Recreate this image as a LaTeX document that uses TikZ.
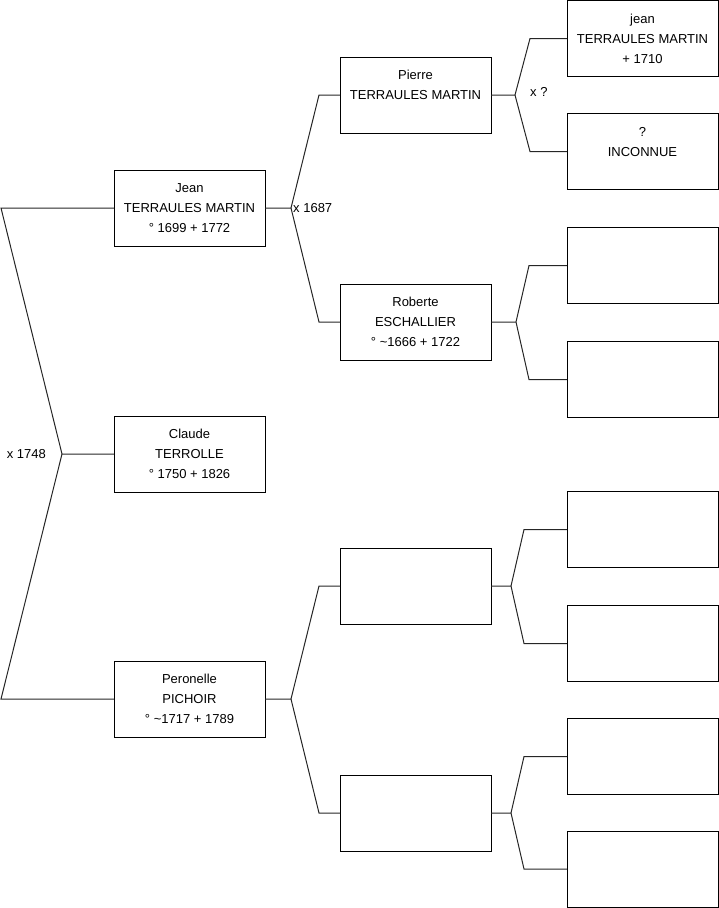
\documentclass[tikz,border=0pt]{standalone}
\usepackage{fontspec}
\setmainfont{Liberation Sans}
\usetikzlibrary{positioning}

\begin{document}
\begin{tikzpicture}[x=1pt,y=-1pt,
  person/.style={rectangle,draw=black,line width=1pt,fill=white,align=center,minimum width=151pt,minimum height=76pt,inner sep=0pt,outer sep=0pt,font=\fontsize{13}{20}\selectfont},
  link/.style={draw=black!85,line width=1pt},
  union/.style={inner sep=0pt,font=\fontsize{13}{20}\selectfont}
]
\useasboundingbox (0,0) rectangle (719,908);
% generation 1
\node[person,anchor=north west] (jean) at (114,170) {Jean\\TERRAULES MARTIN\\° 1699 + 1772};
\node[person,below=170pt of jean] (claude) {Claude\\TERROLLE\\° 1750 + 1826};
\node[person,below=169pt of claude] (peronelle) {Peronelle\\PICHOIR\\° \textasciitilde1717 + 1789};
% generation 2
\node[person,anchor=north west] (pierre) at (340,57) {Pierre\\TERRAULES MARTIN\\~};
\node[person,below=151pt of pierre] (roberte) {Roberte\\ESCHALLIER\\° \textasciitilde1666 + 1722};
\node[person,below=188pt of roberte] (pbfather) {};
\node[person,below=151pt of pbfather] (pbmother) {};
% generation 3
\node[person,anchor=north west] (jeanb) at (567,0.5) {jean\\TERRAULES MARTIN\\+ 1710};
\node[person,below=37pt of jeanb] (inconnue) {?\\INCONNUE\\~};
\node[person,below=38pt of inconnue] (refather) {};
\node[person,below=38pt of refather] (remother) {};
\node[person,below=74pt of remother] (pbff) {};
\node[person,below=38pt of pbff] (pbfm) {};
\node[person,below=37pt of pbfm] (pbmf) {};
\node[person,below=36.5pt of pbmf] (pbmm) {};
% unions
\coordinate (u1748) at (62,454);
\coordinate (u1687) at (291,208);
\coordinate (upierre) at (515,95);
\coordinate (uroberte) at (516,322);
\coordinate (uperonelle) at (291,699);
\coordinate (upbf) at (511,586);
\coordinate (upbm) at (511,813);
\node[union,left=16pt of u1748] (l1748) {x 1748};
\node[union,right=2pt of u1687] (l1687) {x 1687};
\node[union,right=15pt of upierre,yshift=3pt] (lpierre) {x ?};
% links
\draw[link] (jean.west) -- ++(-113,0) -- (u1748) -- (claude.west);
\draw[link] (peronelle.west) -- ++(-113,0) -- (u1748);
\draw[link] (pierre.west) -- ++(-21,0) -- (u1687) -- (jean.east);
\draw[link] (roberte.west) -- ++(-21,0) -- (u1687);
\draw[link] (pbfather.west) -- ++(-21,0) -- (uperonelle) -- (peronelle.east);
\draw[link] (pbmother.west) -- ++(-21,0) -- (uperonelle);
\draw[link] (jeanb.west) -- ++(-37,0) -- (upierre) -- (pierre.east);
\draw[link] (inconnue.west) -- ++(-37,0) -- (upierre);
\draw[link] (refather.west) -- ++(-38,0) -- (uroberte) -- (roberte.east);
\draw[link] (remother.west) -- ++(-38,0) -- (uroberte);
\draw[link] (pbff.west) -- ++(-43,0) -- (upbf) -- (pbfather.east);
\draw[link] (pbfm.west) -- ++(-43,0) -- (upbf);
\draw[link] (pbmf.west) -- ++(-43,0) -- (upbm) -- (pbmother.east);
\draw[link] (pbmm.west) -- ++(-43,0) -- (upbm);
\end{tikzpicture}
\end{document}
